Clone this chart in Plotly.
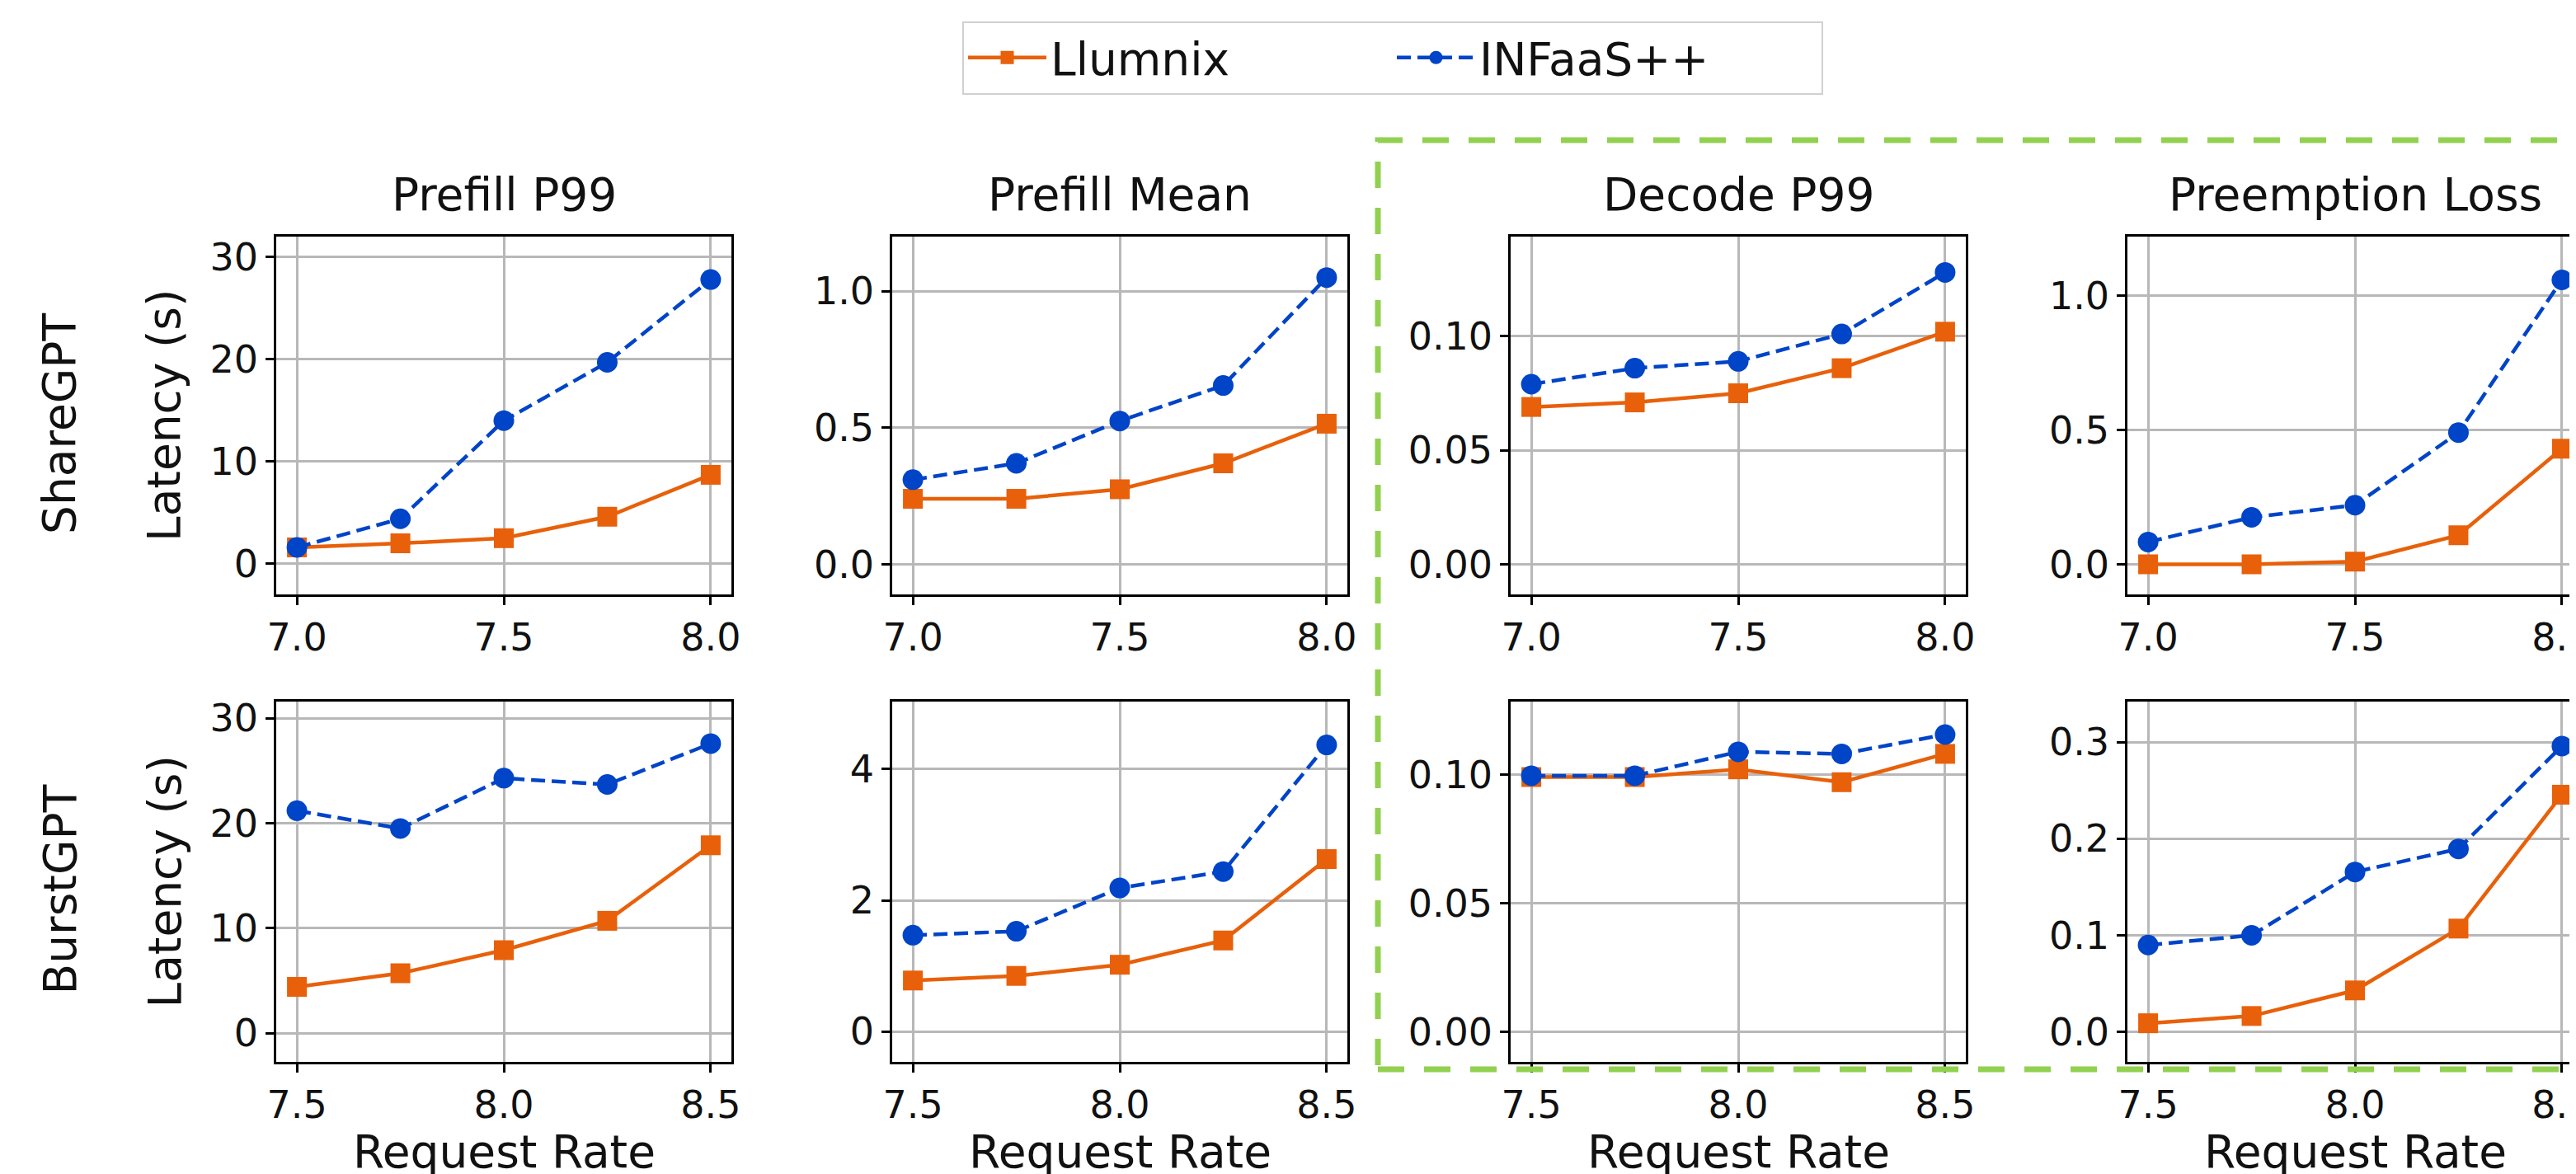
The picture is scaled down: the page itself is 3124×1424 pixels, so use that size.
import plotly.graph_objects as go

# ---------------- data ----------------
x_sharegpt = [7.0, 7.25, 7.5, 7.75, 8.0]
x_burstgpt = [7.5, 7.75, 8.0, 8.25, 8.5]

metric_titles = ["Prefill P99", "Prefill Mean", "Decode P99", "Preemption Loss"]
dataset_names = ["ShareGPT", "BurstGPT"]
series_names = ["Llumnix", "INFaaS++"]
x_axis_title = "Request Rate"
y_axis_title = "Latency (s)"

# ShareGPT row
share_llumnix_prefill_p99 = [1.6, 2.0, 2.5, 4.6, 8.7]
share_infaas_prefill_p99 = [1.6, 4.4, 14.0, 19.7, 27.8]
share_llumnix_prefill_mean = [0.24, 0.24, 0.275, 0.37, 0.515]
share_infaas_prefill_mean = [0.31, 0.37, 0.525, 0.655, 1.05]
share_llumnix_decode_p99 = [0.069, 0.071, 0.075, 0.086, 0.102]
share_infaas_decode_p99 = [0.079, 0.086, 0.089, 0.101, 0.128]
share_llumnix_preemption = [0.0, 0.0, 0.01, 0.108, 0.43]
share_infaas_preemption = [0.083, 0.175, 0.22, 0.49, 1.058]

# BurstGPT row
burst_llumnix_prefill_p99 = [4.4, 5.7, 7.9, 10.7, 17.9]
burst_infaas_prefill_p99 = [21.2, 19.5, 24.3, 23.7, 27.6]
burst_llumnix_prefill_mean = [0.78, 0.85, 1.02, 1.39, 2.63]
burst_infaas_prefill_mean = [1.47, 1.53, 2.19, 2.44, 4.37]
burst_llumnix_decode_p99 = [0.099, 0.099, 0.102, 0.097, 0.108]
burst_infaas_decode_p99 = [0.0995, 0.0995, 0.1088, 0.108, 0.1155]
burst_llumnix_preemption = [0.009, 0.0165, 0.043, 0.107, 0.2456]
burst_infaas_preemption = [0.090, 0.100, 0.1656, 0.1895, 0.296]

x_tickvals_share = [7.0, 7.5, 8.0]
x_ticktext_share = ["7.0", "7.5", "8.0"]
x_tickvals_burst = [7.5, 8.0, 8.5]
x_ticktext_burst = ["7.5", "8.0", "8.5"]

y_tickvals_share = [[0, 10, 20, 30], [0.0, 0.5, 1.0], [0.0, 0.05, 0.10], [0.0, 0.5, 1.0]]
y_ticktext_share = [["0", "10", "20", "30"], ["0.0", "0.5", "1.0"],
                    ["0.00", "0.05", "0.10"], ["0.0", "0.5", "1.0"]]
y_tickvals_burst = [[0, 10, 20, 30], [0, 2, 4], [0.0, 0.05, 0.10], [0.0, 0.1, 0.2, 0.3]]
y_ticktext_burst = [["0", "10", "20", "30"], ["0", "2", "4"],
                    ["0.00", "0.05", "0.10"], ["0.0", "0.1", "0.2", "0.3"]]

rows = [
    dict(x=x_sharegpt,
         llumnix=[share_llumnix_prefill_p99, share_llumnix_prefill_mean,
                  share_llumnix_decode_p99, share_llumnix_preemption],
         infaas=[share_infaas_prefill_p99, share_infaas_prefill_mean,
                 share_infaas_decode_p99, share_infaas_preemption],
         xtv=x_tickvals_share, xtt=x_ticktext_share,
         ytv=y_tickvals_share, ytt=y_ticktext_share),
    dict(x=x_burstgpt,
         llumnix=[burst_llumnix_prefill_p99, burst_llumnix_prefill_mean,
                  burst_llumnix_decode_p99, burst_llumnix_preemption],
         infaas=[burst_infaas_prefill_p99, burst_infaas_prefill_mean,
                 burst_infaas_decode_p99, burst_infaas_preemption],
         xtv=x_tickvals_burst, xtt=x_ticktext_burst,
         ytv=y_tickvals_burst, ytt=y_ticktext_burst),
]

# ---------------- layout geometry / style ----------------
W, H = 3124, 1424
FONT = "DejaVu Sans"
ORANGE = "#e8600a"
BLUE = "#0044c8"
GRID = "#b8b8b8"
TEXT = "#111111"

col_left = [327, 1074, 1824, 2572]
col_width = 552
row_top = [279, 843]
row_bottom = [713, 1280]

y_ranges = [
    [[-3.0, 32.0], [-0.11, 1.2], [-0.0132, 0.1437], [-0.112, 1.219]],
    [[-2.75, 31.6], [-0.46, 5.03], [-0.0116, 0.1283], [-0.031, 0.342]],
]
x_ranges = [[7.0 - 0.05, 8.0 + 0.05], [7.5 - 0.05, 8.5 + 0.05]]

fig = go.Figure()
layout = dict(
    width=W, height=H,
    margin=dict(l=0, r=0, t=0, b=0, autoexpand=False),
    paper_bgcolor="white", plot_bgcolor="white",
    font=dict(family=FONT, size=46, color=TEXT),
    showlegend=True,
)

annotations = []
idx = 0
for r, row in enumerate(rows):
    for c in range(4):
        idx += 1
        xa = "x" if idx == 1 else f"x{idx}"
        ya = "y" if idx == 1 else f"y{idx}"
        x0 = col_left[c] / W
        x1 = min(1.0, (col_left[c] + col_width) / W)
        y0 = 1 - row_bottom[r] / H
        y1 = 1 - row_top[r] / H
        xr = list(x_ranges[r])
        if (col_left[c] + col_width) > W:
            span = xr[1] - xr[0]
            xr[1] = xr[0] + span * (W - col_left[c]) / col_width

        fig.add_trace(go.Scatter(
            x=row["x"], y=row["llumnix"][c], name=series_names[0],
            mode="lines+markers", xaxis=xa, yaxis=ya,
            line=dict(color=ORANGE, width=4.5),
            marker=dict(symbol="square", size=24, color=ORANGE),
            showlegend=(idx == 1), legendgroup="l",
        ))
        fig.add_trace(go.Scatter(
            x=row["x"], y=row["infaas"][c], name=series_names[1],
            mode="lines+markers", xaxis=xa, yaxis=ya,
            line=dict(color=BLUE, width=4.5, dash="17px,8px"),
            marker=dict(symbol="circle", size=25, color=BLUE),
            showlegend=(idx == 1), legendgroup="i",
        ))

        axis_common = dict(
            showline=True, linecolor="black", linewidth=2.5, mirror=True,
            showgrid=True, gridcolor=GRID, gridwidth=2.5,
            ticks="outside", ticklen=10, tickwidth=2.5, tickcolor="black",
            zeroline=False, automargin=False, ticklabeloverflow="allow",
            tickfont=dict(family=FONT, size=46, color=TEXT),
        )
        xkey = "xaxis" if idx == 1 else f"xaxis{idx}"
        ykey = "yaxis" if idx == 1 else f"yaxis{idx}"
        layout[xkey] = dict(axis_common, domain=[x0, x1], anchor=ya, range=xr,
                            tickmode="array", tickvals=row["xtv"], ticktext=row["xtt"])
        layout[ykey] = dict(axis_common, domain=[y0, y1], anchor=xa, range=y_ranges[r][c],
                            tickmode="array", tickvals=row["ytv"][c], ticktext=row["ytt"][c])

        # subplot titles (top row)
        if r == 0:
            annotations.append(dict(
                text=metric_titles[c], xref="paper", yref="paper",
                x=(col_left[c] + col_width / 2) / W, y=y1, yshift=17,
                xanchor="center", yanchor="bottom", showarrow=False,
                font=dict(family=FONT, size=55, color=TEXT),
            ))
        # x-axis titles (bottom row)
        if r == 1:
            annotations.append(dict(
                text=x_axis_title, xref="paper", yref="paper",
                x=(col_left[c] + col_width / 2) / W, y=1 - 1389 / H,
                xanchor="center", yanchor="middle", showarrow=False,
                font=dict(family=FONT, size=55, color=TEXT),
            ))
        # y-axis titles (first column)
        if c == 0:
            annotations.append(dict(
                text=y_axis_title, xref="paper", yref="paper",
                x=191 / W, y=1 - ((row_top[r] + row_bottom[r]) / 2) / H,
                xanchor="center", yanchor="middle", textangle=-90, showarrow=False,
                font=dict(family=FONT, size=55, color=TEXT),
            ))

# Row labels (dataset names)
for r, name in enumerate(dataset_names):
    annotations.append(dict(
        text=name, xref="paper", yref="paper",
        x=64 / W, y=1 - ((row_top[r] + row_bottom[r]) / 2 + 10) / H,
        xanchor="center", yanchor="middle", textangle=-90, showarrow=False,
        font=dict(family=FONT, size=55, color=TEXT),
    ))

layout["annotations"] = annotations

# green dashed highlight box around Decode / Preemption panels
layout["shapes"] = [dict(
    type="rect", xref="paper", yref="paper",
    x0=1663 / W, x1=1.02, y0=1 - 1289 / H, y1=1 - 162 / H,
    line=dict(color="#92d050", width=7, dash="32px,24px"),
    fillcolor="rgba(0,0,0,0)", layer="above",
)]

layout["legend"] = dict(
    orientation="h", x=1681 / W, xanchor="center", y=1 - 62 / H, yanchor="middle",
    font=dict(family=FONT, size=55, color=TEXT),
    bordercolor="#d0d0d0", borderwidth=2, bgcolor="white",
    itemwidth=95, entrywidth=410, traceorder="normal",
)

fig.update_layout(**layout)
fig.write_html("out.html")
